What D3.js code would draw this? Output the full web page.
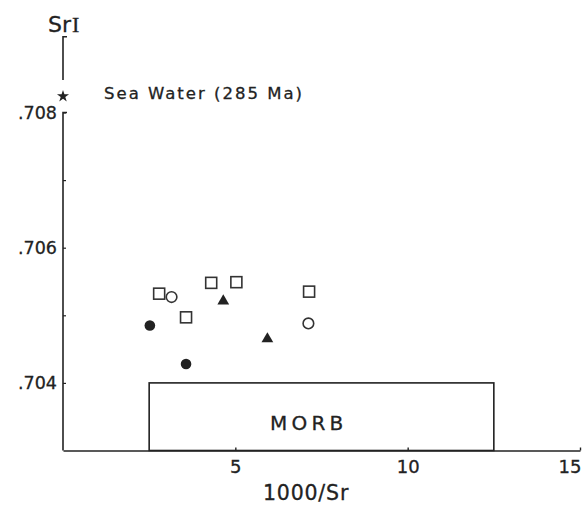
<!DOCTYPE html>
<html><head><meta charset="utf-8">
<script src="https://cdn.jsdelivr.net/npm/d3@7"></script>
<style>
html,body{margin:0;padding:0;background:#fff;}
svg text{font-family:"DejaVu Sans",sans-serif;fill:#222;stroke:#222;stroke-width:0.3px;}
</style></head>
<body>
<svg id="chart" width="582" height="506"></svg>
<script>
// ---- data ----
const squareX = [2.79, 3.57, 4.30, 5.03, 7.14];
const squareY = [0.70532, 0.70497, 0.70548, 0.70549, 0.70535];
const openCircleX = [3.15, 7.12];
const openCircleY = [0.70527, 0.70488];
const filledCircleX = [2.52, 3.57];
const filledCircleY = [0.70485, 0.70428];
const triangleX = [4.65, 5.93];
const triangleY = [0.70521, 0.70465];
const seaWaterX = [0];
const seaWaterY = [0.70824];
const seaWaterLabel = "Sea Water (285 Ma)";
const morbX = [2.5, 12.5];
const morbY = [0.703, 0.704];
const morbLabel = "MORB";
const xTicks = [5, 10, 15];
const xTickLabels = ["5", "10", "15"];
const yTicks = [0.704, 0.705, 0.706, 0.707, 0.708];
const yTickLabels = [".704", "", ".706", "", ".708"];
const xTitle = "1000/Sr";
const yTitle = ["Sr", "I"];

const svg = d3.select("#chart");
const ink = "#222";
const font = "DejaVu Sans, sans-serif";
const x = d3.scaleLinear().domain([0, 15]).range([63, 580]);
const y = d3.scaleLinear().domain([0.703, 0.708]).range([450.5, 112.5]);

// x axis
const xAxis = d3.axisBottom(x).tickValues(xTicks)
  .tickFormat((d, i) => xTickLabels[i]).tickSizeInner(-3).tickSizeOuter(0).tickPadding(10);
const gx = svg.append("g").attr("transform", `translate(0,${y(0.703)})`).call(xAxis);
gx.select(".domain").attr("stroke", ink).attr("stroke-width", 1.6);
gx.selectAll(".tick line").attr("stroke", ink).attr("stroke-width", 1.4);
gx.selectAll(".tick text").attr("font-size", 18).attr("fill", ink).attr("font-family", font)
  .attr("text-anchor", (d) => d === 15 ? "end" : "middle")
  .attr("dx", (d) => d === 15 ? 1 : 0);

// y axis (lower segment)
const yAxis = d3.axisLeft(y).tickValues(yTicks)
  .tickFormat((d, i) => yTickLabels[i]).tickSizeInner(-3).tickSizeOuter(0).tickPadding(6);
const gy = svg.append("g").attr("transform", `translate(${x(0)},0)`).call(yAxis);
gy.select(".domain").remove();
gy.selectAll(".tick line").attr("stroke", ink).attr("stroke-width", 1.2);
gy.selectAll(".tick text").attr("font-size", 17.5).attr("fill", ink).attr("font-family", font);
svg.append("path").attr("fill", "none").attr("stroke", ink).attr("stroke-width", 1.6)
  .attr("d", `M${x(0)+4},${y(0.708)}H${x(0)}V${y(0.703)}`);
// upper segment (axis break)
svg.append("path").attr("fill", "none").attr("stroke", ink).attr("stroke-width", 1.6)
  .attr("d", `M${x(0)+4},${y(0.70912)}H${x(0)}V${y(0.70848)}`);

// axis titles
const yt = svg.append("text").attr("x", 48).attr("y", 32).attr("font-size", 22);
yt.append("tspan").text(yTitle[0]);
yt.append("tspan").attr("font-family", "Liberation Serif, serif").attr("font-size", 22).attr("dx", 1).text(yTitle[1]);
svg.append("text").attr("x", 263).attr("y", 500)
  .attr("font-size", 20.5).attr("letter-spacing", 0.8).text(xTitle);

// MORB box
svg.append("rect").attr("x", x(morbX[0])).attr("y", y(morbY[1]))
  .attr("width", x(morbX[1]) - x(morbX[0])).attr("height", y(morbY[0]) - y(morbY[1]))
  .attr("fill", "none").attr("stroke", ink).attr("stroke-width", 1.6);
svg.append("text").attr("x", 270).attr("y", 429.5)
  .attr("font-size", 20).attr("letter-spacing", 4.2).text(morbLabel);

// sea water star
const star = d3.symbol().type(d3.symbolStar).size(45);
svg.selectAll(".sw").data(seaWaterX).join("path")
  .attr("transform", (d, i) => `translate(${x(d)},${y(seaWaterY[i])})`)
  .attr("d", star()).attr("fill", ink);
svg.append("text").attr("x", 104).attr("y", 98.5)
  .attr("font-size", 16.5).attr("letter-spacing", 2).text(seaWaterLabel);

// markers
const sq = 11;
svg.selectAll(".sq").data(squareX).join("rect")
  .attr("x", (d) => x(d) - sq / 2).attr("y", (d, i) => y(squareY[i]) - sq / 2)
  .attr("width", sq).attr("height", sq).attr("fill", "#fff").attr("stroke", "#333").attr("stroke-width", 1.6);
svg.selectAll(".oc").data(openCircleX).join("circle")
  .attr("cx", (d) => x(d)).attr("cy", (d, i) => y(openCircleY[i])).attr("r", 5.3)
  .attr("fill", "#fff").attr("stroke", "#333").attr("stroke-width", 1.6);
svg.selectAll(".fc").data(filledCircleX).join("circle")
  .attr("cx", (d) => x(d)).attr("cy", (d, i) => y(filledCircleY[i])).attr("r", 5.3)
  .attr("fill", ink);
const tri = d3.symbol().type(d3.symbolTriangle).size(60);
svg.selectAll(".tr").data(triangleX).join("path")
  .attr("transform", (d, i) => `translate(${x(d)},${y(triangleY[i])})`)
  .attr("d", tri()).attr("fill", ink);
</script>
</body></html>
